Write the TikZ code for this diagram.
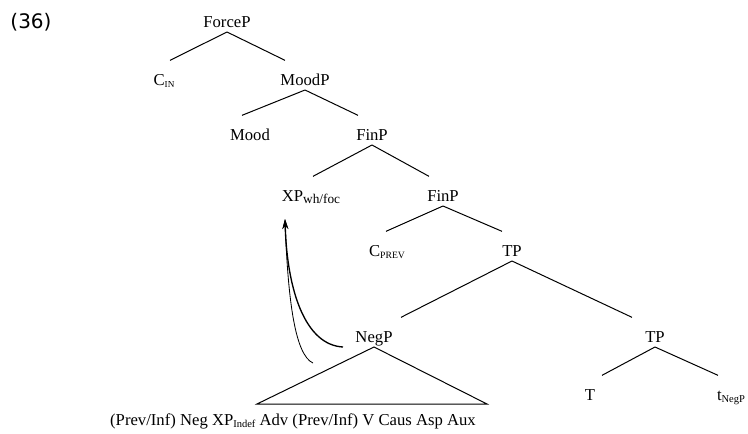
\documentclass[tikz,border=0pt]{standalone}
\usepackage{fontspec}
\setmainfont{Liberation Serif}
\newfontfamily\exfont{DejaVu Sans}
\usetikzlibrary{calc,arrows.meta}
\newcommand{\sbs}[2]{\raisebox{-1.5pt}{\fontsize{#1}{#1}\selectfont #2}}

\begin{document}
\begin{tikzpicture}[
  x=0.6pt, y=-0.6pt,
  cat/.style={anchor=base, inner sep=0pt, text height=14.6pt, text depth=2.8pt,
              font=\fontsize{10}{12}\selectfont},
  branch/.style={line width=0.6pt},
  move/.style={-{Stealth[length=6pt,width=3.5pt]}}
]
\useasboundingbox (0,0) rectangle (748,434);
\node[anchor=base, inner sep=0pt, font=\exfont\fontsize{12}{14}\selectfont] (exnum) at (31,29) {(36)};

\node[cat] (forceP) at (227,27)  {ForceP};
\node[cat] (cin)    at (164,85)  {C\sbs{5.5}{IN}};
\node[cat] (moodP)  at (305,85)  {MoodP};
\node[cat] (mood)   at (250,140) {Mood};
\node[cat] (finP)   at (372,140) {FinP};
\node[cat] (xp)     at (311,201) {XP\sbs{8}{wh/foc}};
\node[cat] (finPb)  at (443,201) {FinP};
\node[cat] (cprev)  at (387,256) {C\sbs{5.8}{PREV}};
\node[cat] (tp)     at (512,256) {TP};
\node[cat] (negP)   at (374,342) {NegP};
\node[cat] (tpb)    at (655,342) {TP};
\node[cat] (t)      at (590,400) {T};
\node[cat] (tneg)   at (731,400) {t\sbs{6.3}{NegP}};
\node[anchor=base, inner sep=0pt] (leaves) at (293,425)
  {(Prev/Inf) Neg XP\sbs{6.3}{Indef} Adv (Prev/Inf) V Caus Asp Aux};

\draw[branch] (forceP.south) -- ($(cin.north)+(6,0)$);
\draw[branch] (forceP.south) -- ($(moodP.north)+(-20,0)$);
\draw[branch] (moodP.south)  -- ($(mood.north)+(-8,0)$);
\draw[branch] (moodP.south)  -- ($(finP.north)+(-14,0)$);
\draw[branch] (finP.south)   -- ($(xp.north)+(2,0)$);
\draw[branch] (finP.south)   -- ($(finPb.north)+(-14,0)$);
\draw[branch] (finPb.south)  -- ($(cprev.north)+(-1,0)$);
\draw[branch] (finPb.south)  -- ($(tp.north)+(-10,0)$);
\draw[branch] (tp.south)     -- ($(negP.north)+(27,0)$);
\draw[branch] (tp.south)     -- ($(tpb.north)+(-23,0)$);
\draw[branch] (tpb.south)    -- ($(t.north)+(12,0)$);
\draw[branch] (tpb.south)    -- ($(tneg.north)+(-13,0)$);

% triangle over the string
\coordinate (baseL) at (257,404);
\coordinate (baseR) at (487,404);
\draw[branch] (negP.south) -- (baseL) -- (baseR) -- cycle;

% movement
\coordinate (land) at (285,219);
\coordinate (mvA)  at (343,347);
\coordinate (mvB)  at (313,363);
\draw[move, line width=0.8pt] (mvA) .. controls (305,345) and (287,290) .. (land);
\draw[move, line width=0.5pt] (mvB) .. controls (295,355) and (288,300) .. (land);
\end{tikzpicture}
\end{document}
